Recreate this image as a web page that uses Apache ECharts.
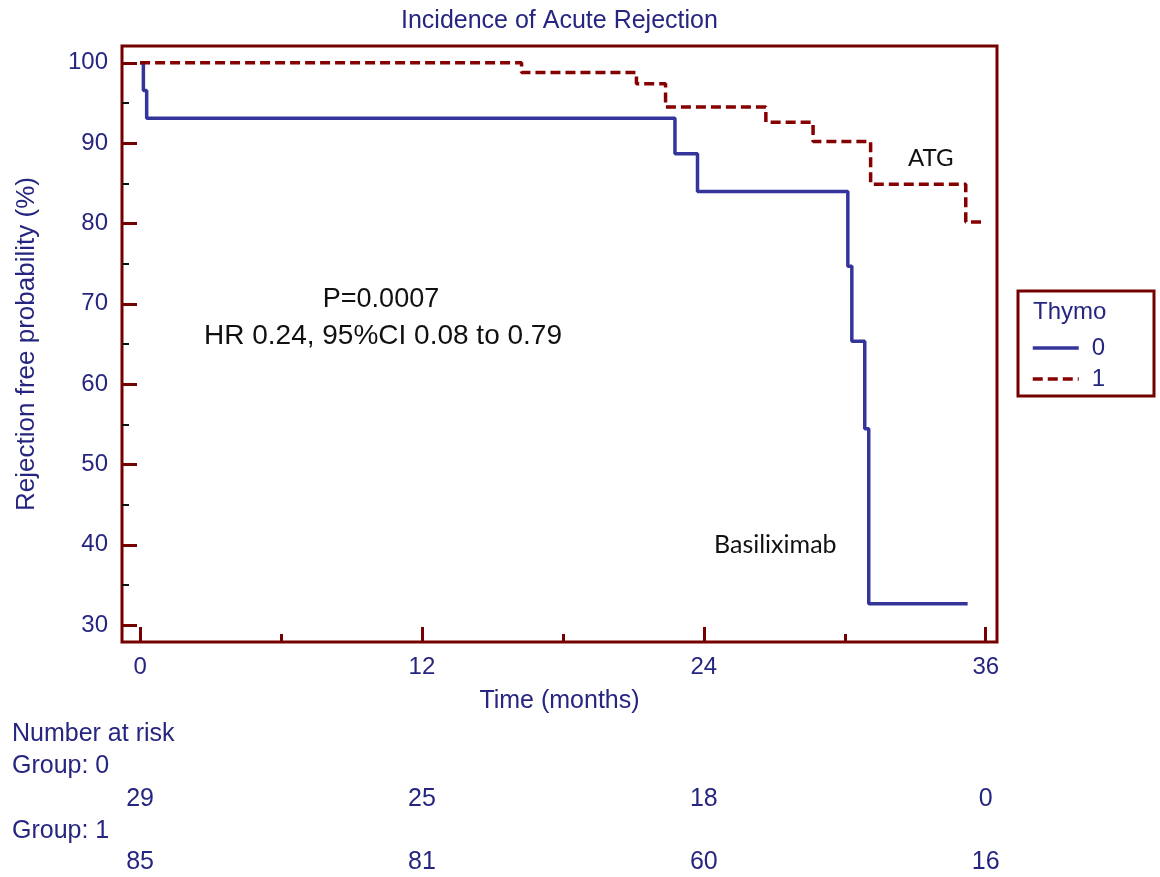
<!DOCTYPE html>
<html>
<head>
<meta charset="utf-8">
<script src="https://cdn.jsdelivr.net/npm/echarts@6/dist/echarts.min.js"></script>
<style>
  html, body { margin: 0; padding: 0; background: #fff; }
  #main { width: 1160px; height: 877px; }
</style>
</head>
<body>
<div id="main"></div>
<script>
// Kaplan-Meier steps (time in months, survival in %)
var time0 = [0, 0.14, 0.28, 22.77, 23.73, 30.13, 30.3, 30.85, 31.02, 35.23];
var surv0 = [100, 96.55, 93.1, 88.67, 84.0, 74.67, 65.33, 54.44, 32.67, 32.67];
var time1 = [0, 16.24, 21.13, 22.37, 26.64, 28.65, 31.1, 35.15, 35.9];
var surv1 = [100, 98.8, 97.4, 94.5, 92.6, 90.2, 84.9, 80.2, 80.2];

var xMajor = [0, 12, 24, 36];
var xMinor = [6, 18, 30];
var yMajor = [30, 40, 50, 60, 70, 80, 90, 100];
var yMinor = [35, 45, 55, 65, 75, 85, 95];

// number at risk table
var riskTimes = [0, 12, 24, 36];
var risk0 = [29, 25, 18, 0];
var risk1 = [85, 81, 60, 16];

var FONT = '"Liberation Sans", Arial, sans-serif';
var NAVY = '#262680';
var FRAME = '#750000';
var BLUE = '#34359a';
var RED = '#850000';

function pairs(t, s) {
  return t.map(function (v, i) { return [v, s[i]]; });
}

var chart = echarts.init(document.getElementById('main'));

var xRange = { min: -0.77, max: 36.48 };
var yRange = { min: 27.9, max: 102.1 };

var option = {
  animation: false,
  backgroundColor: '#fff',
  title: {
    text: 'Incidence of Acute Rejection',
    left: 396,
    top: 4,
    textStyle: { fontFamily: FONT, fontSize: 25, fontWeight: 'normal', color: NAVY }
  },
  grid: {
    left: 122, right: 163, top: 46, bottom: 235,
    show: true, borderColor: FRAME, borderWidth: 3, backgroundColor: 'transparent'
  },
  legend: {
    orient: 'vertical',
    left: 1026,
    top: 331,
    itemWidth: 46,
    itemHeight: 14,
    itemGap: 7,
    data: ['0', '1'],
    itemStyle: { opacity: 0 },
    lineStyle: { width: 3.5 },
    textStyle: { fontFamily: FONT, fontSize: 24, color: NAVY, padding: [0, 0, 0, 8] }
  },
  xAxis: [{
    type: 'value',
    min: xRange.min, max: xRange.max,
    name: 'Time (months)',
    nameLocation: 'middle',
    nameGap: 47,
    nameTextStyle: { fontFamily: FONT, fontSize: 25, color: NAVY },
    axisLine: { show: false, onZero: false },
    splitLine: { show: false },
    axisTick: { show: true, inside: true, length: 15, customValues: xMajor,
      lineStyle: { color: FRAME, width: 3 } },
    axisLabel: { customValues: xMajor, margin: 13,
      fontFamily: FONT, fontSize: 24, color: NAVY }
  }, {
    type: 'value',
    min: xRange.min, max: xRange.max,
    position: 'bottom',
    axisLine: { show: false, onZero: false },
    splitLine: { show: false },
    axisTick: { show: true, inside: true, length: 8, customValues: xMinor,
      lineStyle: { color: FRAME, width: 3 } },
    axisLabel: { show: false }
  }],
  yAxis: [{
    type: 'value',
    min: yRange.min, max: yRange.max,
    name: 'Rejection free probability (%)',
    nameLocation: 'middle',
    nameGap: 82,
    nameTextStyle: { fontFamily: FONT, fontSize: 26, color: NAVY },
    axisLine: { show: false, onZero: false },
    splitLine: { show: false },
    axisTick: { show: true, inside: true, length: 15, customValues: yMajor,
      lineStyle: { color: FRAME, width: 3 } },
    axisLabel: { customValues: yMajor, margin: 14,
      fontFamily: FONT, fontSize: 24, color: NAVY }
  }, {
    type: 'value',
    min: yRange.min, max: yRange.max,
    position: 'left',
    axisLine: { show: false, onZero: false },
    splitLine: { show: false },
    axisTick: { show: true, inside: true, length: 7, customValues: yMinor,
      lineStyle: { color: '#111', width: 2 } },
    axisLabel: { show: false }
  }],
  series: [{
    name: '0',
    type: 'line',
    step: 'end',
    symbol: 'none',
    data: pairs(time0, surv0),
    lineStyle: { color: BLUE, width: 3.5 },
    itemStyle: { color: BLUE },
    z: 2
  }, {
    name: '1',
    type: 'line',
    step: 'end',
    symbol: 'none',
    data: pairs(time1, surv1),
    lineStyle: { color: RED, width: 3.5, type: [10, 5] },
    itemStyle: { color: RED },
    z: 3
  }]
};

chart.setOption(option);

// graphic texts: annotations, legend box, number at risk table
var g = [];
function txt(str, x, y, opts) {
  opts = opts || {};
  g.push({
    type: 'text', x: x, y: y, silent: true,
    style: {
      text: str,
      fontFamily: opts.font || FONT,
      fontSize: opts.size || 23,
      fill: opts.color || NAVY,
      textAlign: opts.align || 'left',
      textVerticalAlign: 'middle'
    }
  });
}

// legend frame + title
g.push({
  type: 'rect', silent: true,
  shape: { x: 1018, y: 291, width: 136, height: 105 },
  style: { fill: 'none', stroke: FRAME, lineWidth: 3 }
});
txt('Thymo', 1033, 312, { size: 24 });

// annotations inside the plot
txt('P=0.0007', 381, 300, { align: 'center', size: 27, color: '#111' });
txt('HR 0.24, 95%CI 0.08 to 0.79', 383, 336, { align: 'center', size: 28, color: '#111' });
txt('ATG', 908, 158, { size: 24, color: '#111', font: 'Lato, "Liberation Sans", sans-serif' });
txt('Basiliximab', 714, 545, { size: 25, color: '#111', font: 'Lato, "Liberation Sans", sans-serif' });

// number at risk
txt('Number at risk', 12, 734, { size: 25 });
txt('Group: 0', 12, 766, { size: 25 });
txt('Group: 1', 12, 831, { size: 25 });
riskTimes.forEach(function (t, i) {
  var px = chart.convertToPixel({ xAxisIndex: 0 }, t);
  txt(String(risk0[i]), px, 799, { size: 25, align: 'center' });
  txt(String(risk1[i]), px, 862, { size: 25, align: 'center' });
});

chart.setOption({ graphic: g });
</script>
</body>
</html>
